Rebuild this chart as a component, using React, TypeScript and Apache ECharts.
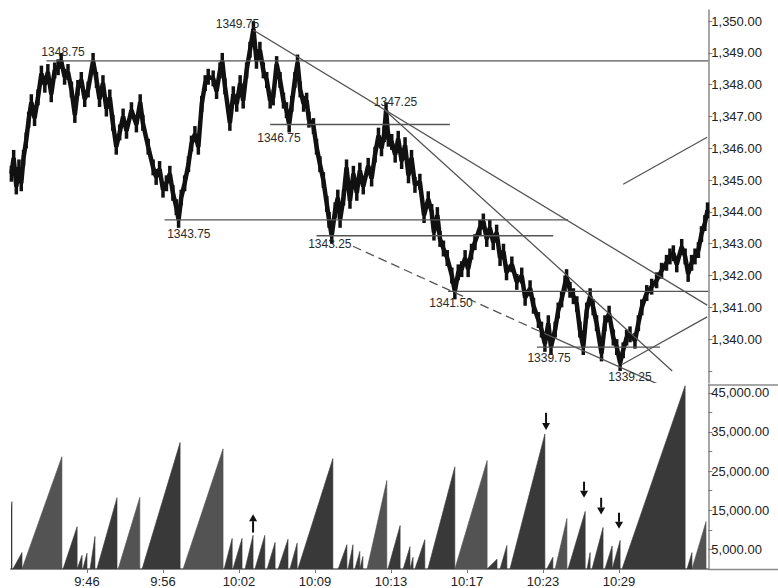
import React, { useEffect, useRef } from 'react';
import * as echarts from 'echarts';

// ---- axis ticks / labels ----
const timeLabels = ['9:46', '9:56', '10:02', '10:09', '10:13', '10:17', '10:23', '10:29'];
const timeTickIdx = [20, 40, 60, 80, 100, 120, 140, 160];
const priceTicks = [1339, 1340, 1341, 1342, 1343, 1344, 1345, 1346, 1347, 1348, 1349, 1350];
const priceLabelValues = [1340, 1341, 1342, 1343, 1344, 1345, 1346, 1347, 1348, 1349, 1350];
const volumeTicks = [5000, 10000, 15000, 20000, 25000, 30000, 35000, 40000, 45000];
const volumeLabelValues = [5000, 15000, 25000, 35000, 45000];

// ---- price path (tick index, price) ----
const priceVerts: [number, number][] = [
  [0.1, 1345.2], [0.7, 1345.7], [1.4, 1344.8], [2.1, 1345.4], [2.7, 1344.9], [3.3, 1345.7], [4.0, 1346.25], [4.65, 1346.9],
  [5.35, 1347.45], [6.2, 1346.95], [7.1, 1347.6], [8.0, 1348.35], [8.9, 1348.0], [9.7, 1348.4], [10.6, 1347.7], [11.5, 1348.45],
  [12.4, 1348.55], [13.2, 1348.75], [14.1, 1348.25], [15.0, 1348.4], [15.9, 1347.85], [16.8, 1347.05], [17.6, 1347.9], [18.5, 1348.15],
  [19.4, 1347.55], [20.3, 1347.85], [21.6, 1348.75], [22.5, 1348.15], [23.3, 1347.55], [24.2, 1348.05], [25.1, 1347.25], [26.0, 1347.6],
  [26.8, 1346.8], [27.7, 1346.05], [28.6, 1346.5], [29.5, 1347.0], [30.4, 1346.55], [31.7, 1347.2], [33.0, 1346.75], [34.0, 1347.45],
  [34.7, 1346.8], [36.1, 1346.05], [37.4, 1345.4], [38.2, 1345.1], [39.1, 1345.35], [40.0, 1344.7], [40.9, 1344.9], [41.8, 1345.2],
  [42.6, 1344.6], [43.5, 1344.15], [44.1, 1343.75], [44.8, 1344.45], [45.7, 1344.9],
  [46.7, 1345.5], [47.5, 1346.15], [48.4, 1346.45], [49.3, 1346.05], [50.2, 1347.4], [51.1, 1348.05], [51.9, 1348.25], [53.2, 1348.2],
  [54.1, 1347.8], [55.0, 1348.45], [55.6, 1348.75], [56.3, 1347.95], [57.6, 1346.8], [58.5, 1347.7], [59.4, 1347.4], [60.3, 1348.05],
  [61.1, 1347.5], [62.0, 1348.45], [62.9, 1349.1], [63.8, 1349.75], [64.6, 1348.75], [65.5, 1349.1], [66.4, 1348.45], [67.3, 1348.15],
  [68.2, 1347.5], [69.0, 1347.6], [69.9, 1348.65], [70.8, 1348.15], [71.7, 1347.5], [72.5, 1347.2], [73.2, 1346.75], [73.9, 1347.4],
  [74.7, 1348.15], [75.4, 1348.7], [76.1, 1347.85], [77.0, 1347.4], [77.8, 1347.5], [78.4, 1346.9], [79.6, 1346.7], [80.4, 1346.05],
  [81.3, 1345.5], [82.2, 1345.0], [83.1, 1344.25], [83.7, 1343.75], [84.4, 1343.25], [85.3, 1344.05], [86.0, 1344.45], [86.6, 1343.75],
  [87.5, 1344.45], [88.3, 1345.4], [89.2, 1344.35], [90.1, 1345.2], [91.0, 1344.6], [91.8, 1345.3], [92.7, 1344.8],
  [94.0, 1345.45], [94.9, 1345.05], [95.8, 1345.8], [96.7, 1346.4], [97.5, 1346.0], [98.2, 1346.45], [98.7, 1347.2], [99.3, 1346.3],
  [100.2, 1346.2], [101.1, 1345.8], [101.9, 1346.3], [102.8, 1345.6], [103.7, 1346.1], [104.6, 1345.15], [105.4, 1345.7], [106.3, 1344.85],
  [107.6, 1344.95], [108.7, 1343.9], [109.8, 1344.4], [110.7, 1344.0], [111.3, 1343.35], [112.2, 1343.9], [112.9, 1343.15], [113.8, 1342.85],
  [114.8, 1342.55], [116.0, 1342.0], [116.8, 1341.5], [117.7, 1342.1], [118.6, 1342.2], [119.5, 1342.55], [120.3, 1342.2], [121.2, 1342.75],
  [122.1, 1343.05], [123.4, 1343.5], [124.3, 1343.7], [125.2, 1343.15], [126.0, 1343.5], [126.9, 1343.05], [127.8, 1343.35], [128.7, 1342.55],
  [129.6, 1342.75], [130.4, 1342.1], [131.8, 1342.35], [133.1, 1341.8], [134.4, 1342.0], [135.3, 1341.3], [136.6, 1341.6], [137.5, 1341.05],
  [138.8, 1340.6], [139.6, 1340.3], [140.5, 1339.85], [141.4, 1340.5], [142.1, 1339.75], [143.2, 1340.3], [144.0, 1340.9], [144.9, 1341.25],
  [145.8, 1341.75], [146.2, 1341.95], [147.1, 1341.55], [148.0, 1341.35], [148.9, 1341.1], [149.7, 1340.3], [150.6, 1339.75], [151.5, 1340.9],
  [152.4, 1341.35], [153.2, 1341.0], [154.1, 1340.5], [155.4, 1339.55], [156.3, 1340.5], [157.4, 1340.8], [158.5, 1340.05], [159.4, 1339.75],
  [160.3, 1339.25], [161.1, 1339.65], [162.0, 1340.05], [162.9, 1340.15], [164.2, 1339.95], [165.1, 1340.5], [166.0, 1341.0], [167.3, 1341.45],
  [168.6, 1341.65], [169.9, 1341.85], [171.2, 1342.15], [172.5, 1342.4], [173.4, 1342.6], [174.3, 1342.7], [175.2, 1342.35], [176.5, 1342.9],
  [177.4, 1342.6], [178.2, 1342.05], [179.1, 1342.4], [180.0, 1342.6], [180.9, 1342.8], [181.7, 1343.3], [182.6, 1343.65], [183.3, 1344.05],
];
// half of the high-low range of each tick bar (price points)
const barHalfRange = 0.25;

// ---- annotations ----
// horizontal levels: [price, fromIdx, toIdx]
const hLines: [number, number, number][] = [
  [1348.75, 9.3, 183.5],
  [1346.75, 68.2, 115.5],
  [1343.75, 40.4, 146.6],
  [1343.25, 80.4, 142.7],
  [1341.5, 115.0, 183.5],
  [1339.75, 138.4, 170.8],
];
// trend lines: [x1, p1, x2, p2, dashed]
const trendLines: [number, number, number, number, number][] = [
  [63.7, 1349.72, 183.2, 1341.07, 0],
  [98.4, 1347.2, 174.0, 1339.0, 0],
  [90.0, 1342.92, 140.5, 1340.17, 1],
  [140.5, 1340.17, 170.0, 1338.6, 0],
  [160.8, 1339.2, 183.2, 1340.7, 0],
  [161.1, 1344.87, 183.2, 1346.35, 0],
];
// pivot labels: [idx, price, text]
const pivotLabels: [number, number, string][] = [
  [13.7, 1349.03, '1348.75'],
  [59.6, 1349.92, '1349.75'],
  [70.5, 1346.33, '1346.75'],
  [46.8, 1343.3, '1343.75'],
  [83.9, 1342.99, '1343.25'],
  [101.2, 1347.45, '1347.25'],
  [115.8, 1341.13, '1341.50'],
  [141.6, 1339.4, '1339.75'],
  [162.9, 1338.82, '1339.25'],
];

// ---- volume sawtooth: [startIdx, endIdx, peak, tone] ----
const volumeTeeth: [number, number, number, number][] = [
  [-3, 0.26, 17200, 0], [0.5, 2.9, 4200, 0], [2.9, 13.4, 28700, 1], [13.7, 17.4, 10800, 0],
  [17.4, 18.7, 3500, 0], [18.9, 20.0, 4000, 0], [20.8, 22.1, 8300, 0], [22.6, 27.9, 18200, 0],
  [28.2, 33.9, 18300, 1], [34.5, 44.5, 32300, 0], [45.3, 55.8, 30700, 1], [56.1, 58.2, 7800, 0],
  [58.4, 60.8, 7800, 0], [61.6, 63.7, 8600, 0], [64.2, 66.8, 8600, 0], [67.4, 69.5, 6800, 0],
  [70.3, 72.9, 7600, 0], [73.4, 75.3, 6600, 0], [75.5, 84.7, 28200, 0], [86.1, 88.4, 6200, 0],
  [88.7, 90.0, 6200, 0], [90.5, 91.8, 4500, 0], [91.8, 92.6, 3200, 0], [93.7, 98.9, 22600, 1],
  [99.2, 102.4, 11100, 0], [103.2, 105.0, 5700, 0], [105.0, 105.8, 3000, 0], [106.3, 108.9, 7500, 0],
  [109.7, 116.8, 26100, 0], [116.8, 125.3, 27700, 1], [125.3, 127.9, 2500, 0], [128.7, 130.5, 6000, 0],
  [131.3, 140.5, 34500, 0], [141.0, 142.6, 3000, 0], [143.2, 146.3, 12900, 1], [146.6, 151.1, 14700, 0],
  [151.6, 152.4, 4200, 0], [152.9, 155.8, 10600, 0], [156.3, 158.2, 5900, 0], [158.2, 160.3, 7300, 0],
  [160.8, 177.4, 46800, 0], [177.9, 179.2, 4200, 0], [179.2, 182.9, 12100, 1],
];
// arrows: [idx, fromVolume, toVolume] (head at toVolume)
const arrows: [number, number, number][] = [
  [63.7, 9300, 14000],
  [140.8, 39900, 35500],
  [150.8, 22300, 18200],
  [155.3, 18200, 13900],
  [160.0, 14400, 10300],
];

const FONT = '"Liberation Sans", Arial, sans-serif';
const fmt = (v: number) =>
  v.toLocaleString('en-US', { minimumFractionDigits: 2, maximumFractionDigits: 2 });

export default function App() {
  const ref = useRef<HTMLDivElement>(null);
  useEffect(() => {
    document.body.style.margin = '0';
    const chart = echarts.init(ref.current!, null, { renderer: 'svg' });
    const allLines = [
      ...hLines.map((h) => [h[1], h[0], h[2], h[0], 0]),
      ...trendLines,
    ];
    const axisColor = '#8a8a8a';
    const option: any = {
      animation: false,
      backgroundColor: '#ffffff',
      grid: [
        { left: 11, top: 10, width: 697.3, height: 373 },
        { left: 11, top: 385, width: 697.3, height: 184.6 },
      ],
      xAxis: [
        { type: 'value', gridIndex: 0, min: 0, max: 183.5, show: false },
        {
          type: 'value', gridIndex: 1, min: 0, max: 183.5,
          splitLine: { show: false },
          axisLine: { show: true, onZero: false, lineStyle: { color: axisColor, width: 2 } },
          axisTick: { show: true, customValues: timeTickIdx, length: 4, lineStyle: { color: '#777' } },
          axisLabel: {
            customValues: timeTickIdx, margin: 6, color: '#222', fontSize: 13, fontFamily: FONT,
            formatter: (v: number) => {
              const i = timeTickIdx.indexOf(Math.round(v));
              return i >= 0 ? timeLabels[i] : '';
            },
          },
        },
      ],
      yAxis: [
        {
          type: 'value', gridIndex: 0, position: 'right', min: 1338.62, max: 1350.35,
          splitLine: { show: false },
          axisLine: { show: true, onZero: false, lineStyle: { color: axisColor, width: 1.5 } },
          axisTick: { show: true, customValues: priceTicks, length: 4, lineStyle: { color: '#777' } },
          axisLabel: { customValues: priceLabelValues, margin: 3, color: '#222', fontSize: 13, fontFamily: FONT, formatter: fmt },
        },
        {
          type: 'value', gridIndex: 1, position: 'right', min: 0, max: 47000,
          splitLine: { show: false },
          axisLine: { show: true, onZero: false, lineStyle: { color: axisColor, width: 1.5 } },
          axisTick: { show: true, customValues: volumeTicks, length: 4, lineStyle: { color: '#777' } },
          axisLabel: { customValues: volumeLabelValues, margin: 3, color: '#222', fontSize: 13, fontFamily: FONT, formatter: fmt },
        },
      ],
      graphic: [
        { type: 'line', shape: { x1: 708, y1: 385, x2: 778, y2: 385 }, style: { stroke: axisColor, lineWidth: 1.5 } },
        { type: 'line', shape: { x1: 708, y1: 569.6, x2: 778, y2: 569.6 }, style: { stroke: axisColor, lineWidth: 1.5 } },
      ],
      series: [
        {
          type: 'line', xAxisIndex: 0, yAxisIndex: 0, data: priceVerts, showSymbol: false, symbol: 'none',
          lineStyle: { color: '#111', width: 4.5, join: 'bevel' }, z: 3, silent: true,
        },
        {
          type: 'custom', xAxisIndex: 0, yAxisIndex: 0, data: priceVerts, z: 3, silent: true,
          encode: { x: 0, y: 1 },
          renderItem: (params: any, api: any) => {
            const hi = api.coord([api.value(0), api.value(1) + barHalfRange]);
            const lo = api.coord([api.value(0), api.value(1) - barHalfRange]);
            return {
              type: 'rect',
              shape: { x: hi[0] - 1.75, y: hi[1], width: 3.5, height: lo[1] - hi[1] },
              style: { fill: '#111' },
            };
          },
        },
        {
          type: 'custom', xAxisIndex: 0, yAxisIndex: 0, data: allLines, clip: true, z: 4, silent: true,
          encode: { x: [0, 2], y: [1, 3] },
          renderItem: (params: any, api: any) => {
            const a = api.coord([api.value(0), api.value(1)]);
            const b = api.coord([api.value(2), api.value(3)]);
            const dashed = api.value(4) === 1;
            return {
              type: 'line',
              shape: { x1: a[0], y1: a[1], x2: b[0], y2: b[1] },
              style: { stroke: '#555', lineWidth: 1.3, lineDash: dashed ? [9, 5] : null },
            };
          },
        },
        {
          type: 'custom', xAxisIndex: 0, yAxisIndex: 0, z: 6, silent: true,
          data: pivotLabels.map((d) => [d[0], d[1]]),
          encode: { x: 0, y: 1 },
          renderItem: (params: any, api: any) => {
            const p = api.coord([api.value(0), api.value(1)]);
            return {
              type: 'text', x: p[0], y: p[1],
              style: {
                text: pivotLabels[params.dataIndex][2], fill: '#2a2a2a', font: '12px ' + FONT,
                align: 'center', verticalAlign: 'middle', textAlign: 'center', textVerticalAlign: 'middle',
              },
            };
          },
        },
        {
          type: 'custom', xAxisIndex: 1, yAxisIndex: 1, data: volumeTeeth, clip: true, z: 2, silent: true,
          encode: { x: [0, 1], y: 2 },
          renderItem: (params: any, api: any) => {
            const s = api.value(0), e = api.value(1), v = api.value(2), tone = api.value(3);
            const p0 = api.coord([s, 0]);
            const p1 = api.coord([e, v]);
            const p2 = api.coord([e, 0]);
            const c = tone === 1 ? '#535353' : '#393939';
            return {
              type: 'polygon',
              shape: { points: [p0, p1, p2] },
              style: { fill: c, stroke: c, lineWidth: 0.6 },
            };
          },
        },
        {
          type: 'custom', xAxisIndex: 1, yAxisIndex: 1, data: arrows, z: 5, silent: true,
          encode: { x: 0, y: [1, 2] },
          renderItem: (params: any, api: any) => {
            const a = api.coord([api.value(0), api.value(1)]);
            const b = api.coord([api.value(0), api.value(2)]);
            const dir = b[1] < a[1] ? -1 : 1;
            const headLen = 7;
            const baseY = b[1] - dir * headLen;
            return {
              type: 'group',
              children: [
                { type: 'line', shape: { x1: a[0], y1: a[1], x2: a[0], y2: baseY }, style: { stroke: '#111', lineWidth: 2 } },
                { type: 'polygon', shape: { points: [[b[0], b[1]], [b[0] - 4, baseY], [b[0] + 4, baseY]] }, style: { fill: '#111' } },
              ],
            };
          },
        },
      ],
    };
    chart.setOption(option);
    return () => chart.dispose();
  }, []);
  return <div ref={ref} style={{ width: 778, height: 588 }} />;
}
